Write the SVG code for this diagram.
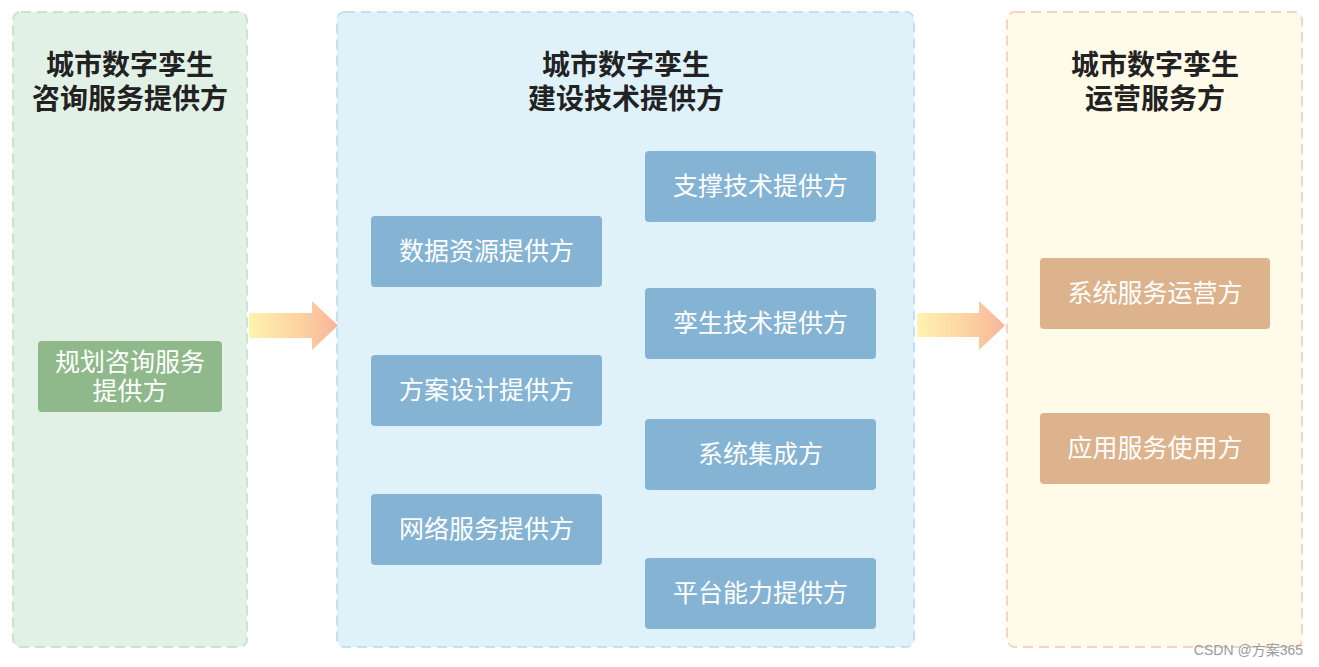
<svg xmlns="http://www.w3.org/2000/svg" width="1319" height="667" viewBox="0 0 1319 667">
<style>
.title{font-family:"Noto Sans CJK SC","Noto Sans",sans-serif;font-size:28px;font-weight:bold;fill:#222;text-anchor:middle}
.lbl{font-family:"Noto Sans CJK SC","Noto Sans",sans-serif;font-size:25px;fill:#fff;text-anchor:middle}
.blue{fill:#85b3d3}
.panel{stroke-width:2;stroke-dasharray:10 6}
</style>
<defs>
<linearGradient id="ag" x1="0" y1="0" x2="1" y2="0">
<stop offset="0" stop-color="#fff3b0"/>
<stop offset="0.5" stop-color="#fdd7a2"/>
<stop offset="1" stop-color="#f8b59a"/>
</linearGradient>
</defs>
<rect width="1319" height="667" fill="#fff"/>
<g id="panel-consult">
<rect class="panel" x="13" y="12" width="234" height="635" rx="8" fill="#e2f1e6" stroke="#c8e3cf"/>
<text class="title" x="130" y="75">城市数字孪生</text>
<text class="title" x="130" y="109">咨询服务提供方</text>
</g>
<g id="panel-build">
<rect class="panel" x="337" y="12" width="577" height="635" rx="8" fill="#dff2fa" stroke="#bfe2f2"/>
<text class="title" x="626" y="75">城市数字孪生</text>
<text class="title" x="626" y="109">建设技术提供方</text>
</g>
<g id="panel-ops">
<rect class="panel" x="1007" y="12" width="295" height="635" rx="8" fill="#fffbe8" stroke="#f8d3c4"/>
<text class="title" x="1155" y="75">城市数字孪生</text>
<text class="title" x="1155" y="109">运营服务方</text>
</g>
<g id="node-plan">
<rect x="38" y="341" width="184" height="71" rx="4" fill="#8fb98b"/>
<text class="lbl" x="130" y="371">规划咨询服务</text>
<text class="lbl" x="130" y="400">提供方</text>
</g>
<g id="node-data"><rect class="blue" x="371" y="216" width="231" height="71" rx="4"/><text class="lbl" x="486.5" y="260">数据资源提供方</text></g>
<g id="node-design"><rect class="blue" x="371" y="355" width="231" height="71" rx="4"/><text class="lbl" x="486.5" y="399">方案设计提供方</text></g>
<g id="node-network"><rect class="blue" x="371" y="494" width="231" height="71" rx="4"/><text class="lbl" x="486.5" y="538">网络服务提供方</text></g>
<g id="node-support"><rect class="blue" x="645" y="151" width="231" height="71" rx="4"/><text class="lbl" x="760.5" y="195">支撑技术提供方</text></g>
<g id="node-twin"><rect class="blue" x="645" y="288" width="231" height="71" rx="4"/><text class="lbl" x="760.5" y="332">孪生技术提供方</text></g>
<g id="node-integrate"><rect class="blue" x="645" y="419" width="231" height="71" rx="4"/><text class="lbl" x="760.5" y="463">系统集成方</text></g>
<g id="node-platform"><rect class="blue" x="645" y="558" width="231" height="71" rx="4"/><text class="lbl" x="760.5" y="602">平台能力提供方</text></g>
<g id="node-sysops"><rect x="1040" y="258" width="230" height="71" rx="4" fill="#dcb38c"/><text class="lbl" x="1155" y="302">系统服务运营方</text></g>
<g id="node-appuse"><rect x="1040" y="413" width="230" height="71" rx="4" fill="#dcb38c"/><text class="lbl" x="1155" y="457">应用服务使用方</text></g>
<g id="connectors">
<polygon points="249,313 312,313 312,301 338,325.5 312,350 312,338 249,338" fill="url(#ag)"/>
<polygon points="917,313 979,313 979,301 1005,325.5 979,350 979,337 917,337" fill="url(#ag)"/>
</g>
<text x="1303" y="655" font-family="'Liberation Sans','Noto Sans CJK SC',sans-serif" font-size="14" fill="#9a9a9a" text-anchor="end">CSDN @方案365</text>
</svg>
